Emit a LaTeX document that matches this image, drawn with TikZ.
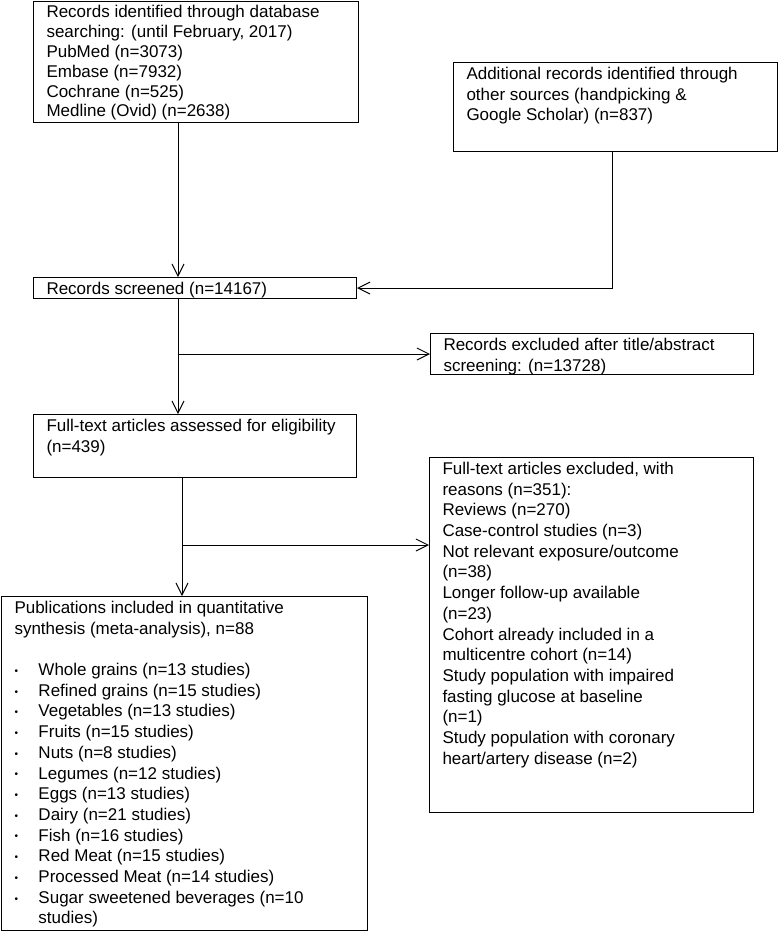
\documentclass[tikz,border=0pt]{standalone}
\usepackage{fontspec}
\setmainfont{Liberation Sans}
\usetikzlibrary{arrows.meta}
\newcommand{\boxtext}[3]{\parbox[t][\dimexpr#2pt-5pt\relax][t]{\dimexpr#1pt-26pt\relax}{\strut#3}}
\newcommand{\bitem}{\makebox[24pt][l]{\raisebox{1.2pt}{\fontsize{10}{10}\selectfont\textbullet}}}

\begin{document}
\begin{tikzpicture}[x=1pt,y=-1pt,line width=1pt,
        box/.style={draw,anchor=north west,inner xsep=13pt,inner ysep=2.5pt,font=\fontsize{17}{20.7}\selectfont},
        arr/.style={-{Straight Barb[length=12pt,width=12pt]}}]
        \useasboundingbox (0,0) rectangle (779,932);
        % boxes
        \node[box,font=\fontsize{17}{19.8}\selectfont] (db) at (33,1) {\boxtext{325}{121}{Records identified through database\\
            searching: (until February, 2017)\\ PubMed (n=3073)\\ Embase (n=7932)\\ Cochrane (n=525)\\ Medline (Ovid) (n=2638)}};
        \node[box] (other) at (453,62) {\boxtext{324}{89}{Additional records identified through\\
            other sources (handpicking \&\\ Google Scholar) (n=837)}};
        \node[box] (screened) at (33,277) {\boxtext{323}{21}{Records screened (n=14167)}};
        \node[box] (excl1) at (430,333) {\boxtext{323}{41}{Records excluded after title/abstract\\ screening: (n=13728)}};
        \node[box] (full) at (33,414) {\boxtext{323}{63}{Full-text articles assessed for eligibility\\ (n=439)}};
        \node[box] (excl2) at (429,457) {\boxtext{324}{355}{Full-text articles excluded, with\\ reasons (n=351):\\
            Reviews (n=270)\\ Case-control studies (n=3)\\ Not relevant exposure/outcome\\ (n=38)\\
            Longer follow-up available\\ (n=23)\\ Cohort already included in a\\ multicentre cohort (n=14)\\
            Study population with impaired\\ fasting glucose at baseline\\ (n=1)\\
            Study population with coronary\\ heart/artery disease (n=2)}};
        \node[box] (pubs) at (1,596) {\boxtext{366}{334}{Publications included in quantitative\\
            synthesis (meta-analysis), n=88\\[20.7pt]
            \bitem Whole grains (n=13 studies)\\ \bitem Refined grains (n=15 studies)\\
            \bitem Vegetables (n=13 studies)\\ \bitem Fruits (n=15 studies)\\
            \bitem Nuts (n=8 studies)\\ \bitem Legumes (n=12 studies)\\
            \bitem Eggs (n=13 studies)\\ \bitem Dairy (n=21 studies)\\
            \bitem Fish (n=16 studies)\\ \bitem Red Meat (n=15 studies)\\
            \bitem Processed Meat (n=14 studies)\\ \bitem Sugar sweetened beverages (n=10\\
            \hspace*{24pt}studies)}};
        % connectors
        \coordinate (c1) at (178,0);
        \coordinate (c2) at (612,0);
        \coordinate (c3) at (182,545);
        \draw[arr] (db.south -| c1) -- (screened.north -| c1);
        \draw[arr] (other.south -| c2) |- (screened.east);
        \draw[arr] (screened.south -| c1) -- (full.north -| c1);
        \draw[arr] (c1 |- excl1.west) -- (excl1.west);
        \draw[arr] (full.south -| c3) -- (pubs.north -| c3);
        \draw[arr] (c3) -- (c3 -| excl2.west);
\end{tikzpicture}
\end{document}
